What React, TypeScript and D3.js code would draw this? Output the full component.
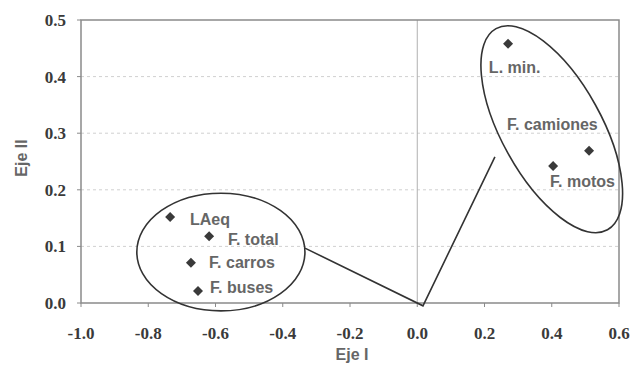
import React from "react";
import * as d3 from "d3";

const pointNames = ["LAeq", "F. total", "F. carros", "F. buses", "L. min.", "F. camiones", "F. motos"];
const ejeI = [-0.735, -0.619, -0.673, -0.652, 0.27, 0.511, 0.404];
const ejeII = [0.152, 0.118, 0.071, 0.021, 0.458, 0.269, 0.242];
// label anchor positions in data units
const labelX = [-0.676, -0.563, -0.619, -0.616, 0.213, 0.267, 0.395];
const labelY = [0.138, 0.102, 0.062, 0.018, 0.406, 0.306, 0.205];

const xTicks = [-1.0, -0.8, -0.6, -0.4, -0.2, 0.0, 0.2, 0.4, 0.6];
const yTicks = [0.0, 0.1, 0.2, 0.3, 0.4, 0.5];

// annotation: ellipses (center x, center y, rx, ry in data units, rotation deg)
const ellipseCx = [-0.584, 0.4];
const ellipseCy = [0.09, 0.307];
const ellipseRx = [0.25, 0.342];
const ellipseRy = [0.104, 0.0883];
const ellipseRot = [0, 61];
// connector polyline
const lineX = [-0.334, 0.017, 0.231];
const lineY = [0.097, -0.005, 0.258];

const W = 631;
const H = 366;
const left = 81;
const right = 619;
const top = 20;
const bottom = 303;

export default function App() {
  const x = d3.scaleLinear().domain([-1, 0.6]).range([left, right]);
  const y = d3.scaleLinear().domain([0, 0.5]).range([bottom, top]);
  const line = d3
    .line<number>()
    .x((d) => x(lineX[d]))
    .y((d) => y(lineY[d]));
  const diamond = d3.symbol().type(d3.symbolSquare).size(50)();
  const pxPerX = x(1) - x(0);
  const pxPerY = y(0) - y(1);

  return (
    <svg
      width={W}
      height={H}
      style={{ position: "absolute", left: 0, top: 0, background: "#fff" }}
    >
      <rect x={0} y={0} width={W} height={H} fill="#fff" />
      {yTicks
        .filter((t) => t > 0 && t < 0.5)
        .map((t) => (
          <line
            key={"g" + t}
            x1={left}
            x2={right}
            y1={y(t)}
            y2={y(t)}
            stroke="#d0d0d0"
            strokeWidth={1}
            strokeDasharray="3,3"
          />
        ))}
      <line x1={x(0)} x2={x(0)} y1={top} y2={bottom} stroke="#b0b0b0" strokeWidth={1} />
      <rect
        x={left}
        y={top}
        width={right - left}
        height={bottom - top}
        fill="none"
        stroke="#8a8a8a"
        strokeWidth={1.5}
      />
      {xTicks.map((t) => (
        <g key={"x" + t}>
          <line x1={x(t)} x2={x(t)} y1={bottom} y2={bottom + 4} stroke="#8a8a8a" />
          <text
            x={x(t)}
            y={339}
            textAnchor="middle"
            fontFamily="Liberation Serif, serif"
            fontWeight="bold"
            fontSize={17}
            fill="#3a3a3a"
          >
            {t.toFixed(1)}
          </text>
        </g>
      ))}
      {yTicks.map((t) => (
        <g key={"y" + t}>
          <line x1={left - 4} x2={left} y1={y(t)} y2={y(t)} stroke="#8a8a8a" />
          <text
            x={66}
            y={y(t) + 6}
            textAnchor="end"
            fontFamily="Liberation Serif, serif"
            fontWeight="bold"
            fontSize={17}
            fill="#3a3a3a"
          >
            {t.toFixed(1)}
          </text>
        </g>
      ))}
      <text
        x={(left + right) / 2 + 2}
        y={360}
        textAnchor="middle"
        fontFamily="Liberation Sans, Arial, sans-serif"
        fontWeight="bold"
        fontSize={16}
        fill="#666"
      >
        Eje I
      </text>
      <text
        transform={`translate(27,158) rotate(-90)`}
        textAnchor="middle"
        fontFamily="Liberation Sans, Arial, sans-serif"
        fontWeight="bold"
        fontSize={16}
        fill="#666"
      >
        Eje II
      </text>
      {ellipseCx.map((cx, i) => (
        <ellipse
          key={"e" + i}
          transform={`translate(${x(cx)},${y(ellipseCy[i])}) rotate(${ellipseRot[i]})`}
          rx={ellipseRx[i] * pxPerX}
          ry={ellipseRy[i] * pxPerY}
          fill="none"
          stroke="#333"
          strokeWidth={1.6}
        />
      ))}
      <path
        d={line(lineX.map((_, i) => i)) || ""}
        fill="none"
        stroke="#333"
        strokeWidth={1.6}
      />
      {pointNames.map((n, i) => (
        <path
          key={"p" + n}
          d={diamond || ""}
          transform={`translate(${x(ejeI[i])},${y(ejeII[i])}) rotate(45)`}
          fill="#3a3a3a"
        />
      ))}
      {pointNames.map((n, i) => (
        <text
          key={"l" + n}
          x={x(labelX[i])}
          y={y(labelY[i])}
          fontFamily="Liberation Sans, Arial, sans-serif"
          fontWeight="bold"
          fontSize={16}
          fill="#666"
        >
          {n}
        </text>
      ))}
    </svg>
  );
}
